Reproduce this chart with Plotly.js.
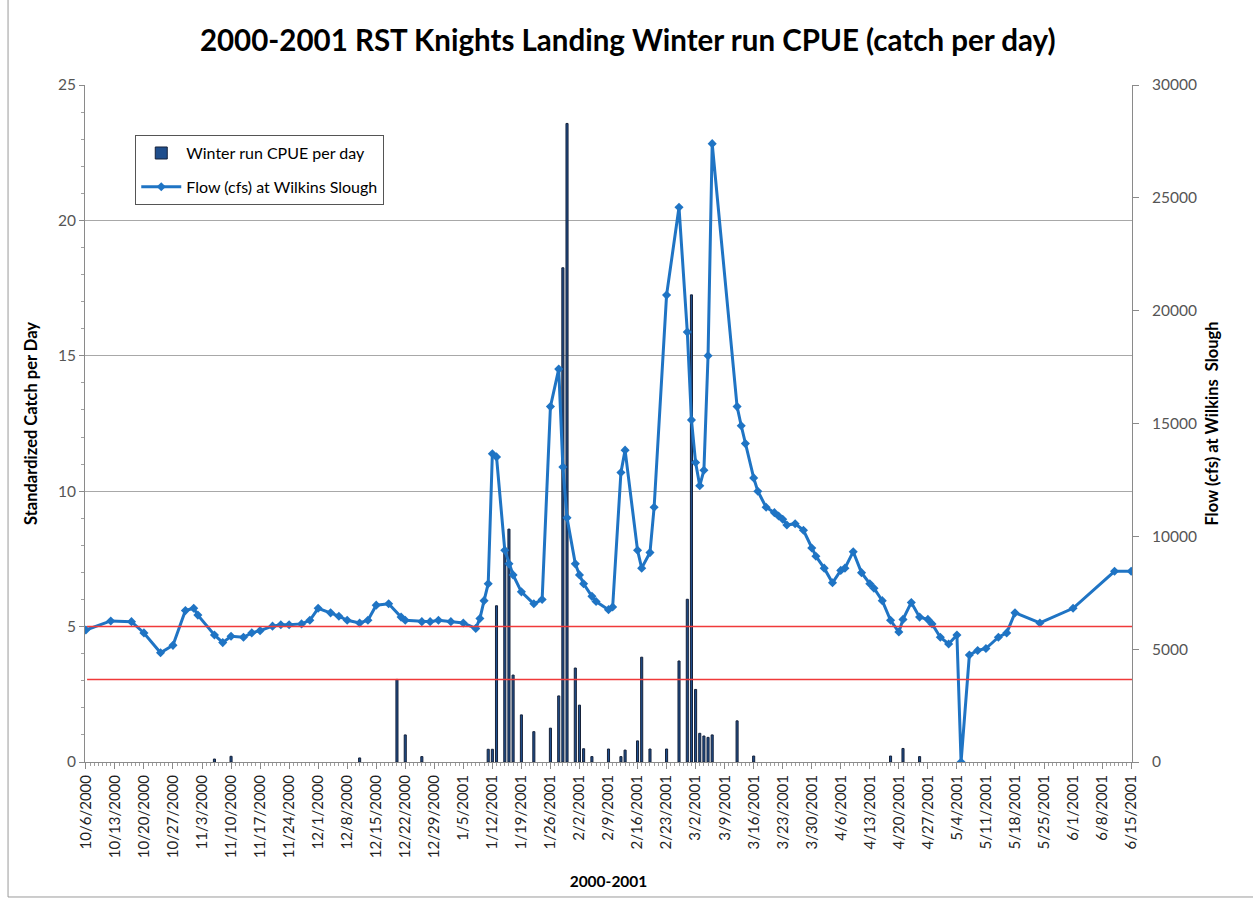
<!DOCTYPE html>
<html>
<head>
<meta charset="utf-8">
<script src="https://cdn.plot.ly/plotly-3.0.1.min.js"></script>
<style>html,body{margin:0;padding:0;background:#fff;}#chart{width:1253px;height:905px;}</style>
</head>
<body>
<div id="chart"></div>
<script>
// Flow (cfs) at Wilkins Slough
const flowDates = [
"2000-10-06","2000-10-12","2000-10-17","2000-10-20","2000-10-24","2000-10-27","2000-10-30","2000-11-01","2000-11-02","2000-11-06",
"2000-11-08","2000-11-10","2000-11-13","2000-11-15","2000-11-17","2000-11-20","2000-11-22","2000-11-24","2000-11-27","2000-11-29",
"2000-12-01","2000-12-04","2000-12-06","2000-12-08","2000-12-11","2000-12-13","2000-12-15","2000-12-18","2000-12-21","2000-12-22",
"2000-12-26","2000-12-28","2000-12-30","2001-01-02","2001-01-05","2001-01-08","2001-01-09","2001-01-10","2001-01-11","2001-01-12",
"2001-01-13","2001-01-15","2001-01-16","2001-01-17","2001-01-19","2001-01-22","2001-01-24","2001-01-26","2001-01-28","2001-01-29",
"2001-01-30","2001-02-01","2001-02-02","2001-02-03","2001-02-05","2001-02-06","2001-02-09","2001-02-10","2001-02-12","2001-02-13",
"2001-02-16","2001-02-17","2001-02-19","2001-02-20","2001-02-23","2001-02-26","2001-02-28","2001-03-01","2001-03-02","2001-03-03",
"2001-03-04","2001-03-05","2001-03-06","2001-03-12","2001-03-13","2001-03-14","2001-03-16","2001-03-17","2001-03-19","2001-03-21",
"2001-03-22","2001-03-23","2001-03-24","2001-03-26","2001-03-28","2001-03-30","2001-03-31","2001-04-02","2001-04-04","2001-04-06",
"2001-04-07","2001-04-09","2001-04-11","2001-04-13","2001-04-14","2001-04-16","2001-04-18","2001-04-20","2001-04-21","2001-04-23",
"2001-04-25","2001-04-27","2001-04-28","2001-04-30","2001-05-02","2001-05-04","2001-05-05","2001-05-07","2001-05-09","2001-05-11",
"2001-05-14","2001-05-16","2001-05-18","2001-05-24","2001-06-01","2001-06-11","2001-06-15"];
const flowValues = [
5850,6250,6220,5720,4840,5170,6710,6810,6510,5630,
5290,5570,5530,5720,5820,6020,6080,6080,6120,6280,
6810,6610,6460,6280,6160,6280,6950,7010,6420,6280,
6220,6220,6280,6220,6160,5920,6360,7150,7900,13660,
13520,9380,8780,8290,7540,7010,7200,15750,17410,13070,
10820,8780,8290,7900,7340,7110,6750,6870,12830,13820,
9380,8590,9280,11290,20690,24580,19050,15160,13270,12240,
12930,18000,27400,15750,14900,14110,12590,12000,11290,11050,
10900,10760,10500,10560,10270,9480,9120,8590,7940,8490,
8590,9320,8390,7900,7700,7150,6280,5760,6320,7070,
6420,6320,6120,5530,5230,5630,0,4740,4940,5030,
5530,5720,6610,6160,6810,8450,8450];

// Winter run CPUE per day
const cpueDates = [
"2000-11-06","2000-11-10","2000-12-11","2000-12-20","2000-12-22","2000-12-26","2001-01-11","2001-01-12","2001-01-13","2001-01-15",
"2001-01-16","2001-01-17","2001-01-19","2001-01-22","2001-01-26","2001-01-28","2001-01-29","2001-01-30","2001-02-01","2001-02-02",
"2001-02-03","2001-02-05","2001-02-09","2001-02-12","2001-02-13","2001-02-16","2001-02-17","2001-02-19","2001-02-23","2001-02-26",
"2001-02-28","2001-03-01","2001-03-02","2001-03-03","2001-03-04","2001-03-05","2001-03-06","2001-03-12","2001-03-16","2001-04-18",
"2001-04-21","2001-04-25"];
const cpueValues = [
0.11,0.21,0.15,3.05,1.0,0.2,0.47,0.47,5.77,7.77,
8.6,3.21,1.74,1.12,1.25,2.44,18.25,23.58,3.47,2.1,
0.49,0.2,0.48,0.2,0.44,0.78,3.87,0.48,0.48,3.73,
6.01,17.25,2.68,1.06,0.96,0.91,1.0,1.52,0.22,0.22,
0.5,0.2];

// Reference lines (Standardized catch per day)
const thresholds = [5, 3.05];

const titleText = "2000-2001 RST Knights Landing Winter run CPUE (catch per day)";
const leftTitle = "Standardized Catch per Day";
const rightTitle = "Flow (cfs) at Wilkins&nbsp; Slough";
const xTitle = "2000-2001";
const seriesNames = ["Winter run CPUE per day", "Flow (cfs) at Wilkins Slough"];

const FONT = "Lato, 'Open Sans', sans-serif";
const DAY = 86400000;

const traces = [
  {
    type: "bar", name: seriesNames[0], legendgroup: "a", x: cpueDates, y: cpueValues,
    xaxis: "x", yaxis: "y", width: DAY * 0.5,
    marker: {color: "#1F4E8C", line: {color: "#16223a", width: 1}}
  },
  {
    type: "scatter", mode: "lines+markers", name: seriesNames[1], legendgroup: "b",
    x: flowDates, y: flowValues, xaxis: "x", yaxis: "y2",
    line: {color: "#1F74C4", width: 3},
    marker: {symbol: "diamond", size: 7, color: "#1F74C4"}
  }
];

const shapes = thresholds.map(t => ({
  type: "line", xref: "paper", yref: "y", x0: 0.002, x1: 1, y0: t, y1: t,
  line: {color: "#F03A3A", width: 1.5}, layer: "above"
}));
// chart area border
shapes.push({type: "rect", xref: "paper", yref: "paper", x0: -0.0735, x1: 1.13, y0: -0.1994, y1: 1.14,
  line: {color: "#9a9a9a", width: 1}, layer: "below"});

const layout = {
  width: 1253, height: 905,
  margin: {l: 85, r: 121, t: 85, b: 143},
  paper_bgcolor: "#ffffff", plot_bgcolor: "#ffffff",
  font: {family: FONT, color: "#000"},
  title: {text: "<b>" + titleText + "</b>", font: {family: FONT, size: 29.5, color: "#000"},
          xref: "container", x: 0.501, xanchor: "center", yref: "container", y: 0.955, yanchor: "middle"},
  bargap: 0,
  showlegend: true,
  legend: {x: 0.048, y: 0.926, xanchor: "left", yanchor: "top", bgcolor: "#fff",
           bordercolor: "#555", borderwidth: 1, font: {family: FONT, size: 16, color: "#000"},
           traceorder: "grouped", itemwidth: 40, tracegroupgap: 10},
  xaxis: {
    type: "date", range: ["2000-10-05 19:00", "2001-06-15 05:00"],
    tick0: "2000-10-06", dtick: 7 * DAY, tickformat: "%-m/%-d/%Y", tickangle: -90,
    ticks: "outside", ticklen: 6, tickcolor: "#8a8a8a",
    minor: {tick0: "2000-10-06", dtick: DAY, ticks: "outside", ticklen: 3, tickcolor: "#a0a0a0", showgrid: false},
    showline: true, linecolor: "#8a8a8a", linewidth: 1, showgrid: false, zeroline: false,
    tickfont: {family: FONT, size: 15, color: "#222"},
    title: {text: "<b>" + xTitle + "</b>", font: {family: FONT, size: 15.5, color: "#000"}, standoff: 18},
    automargin: false
  },
  yaxis: {
    range: [0, 25], dtick: 5, tick0: 0,
    ticks: "outside", ticklen: 5, tickcolor: "#8a8a8a",
    minor: {dtick: 1, ticks: "outside", ticklen: 3, tickcolor: "#a0a0a0", showgrid: false},
    showline: true, linecolor: "#8a8a8a", linewidth: 1,
    showgrid: true, gridcolor: "#a8a8a8", gridwidth: 1, zeroline: false,
    tickfont: {family: FONT, size: 15.5, color: "#555"},
    title: {text: "<b>" + leftTitle + "</b>", font: {family: FONT, size: 16.5, color: "#000"}, standoff: 16},
    automargin: false
  },
  yaxis2: {
    overlaying: "y", side: "right", range: [0, 30000], dtick: 5000, tick0: 0,
    tickformat: "d",
    ticks: "outside", ticklen: 6, tickcolor: "#8a8a8a", ticklabelstandoff: 10,
    showline: true, linecolor: "#8a8a8a", linewidth: 1, showgrid: false, zeroline: false,
    tickfont: {family: FONT, size: 15.5, color: "#555"},
    title: {text: "<b>" + rightTitle + "</b>", font: {family: FONT, size: 16.5, color: "#000"}, standoff: 10},
    automargin: false
  },
  shapes: shapes
};

Plotly.newPlot("chart", traces, layout, {displayModeBar: false, staticPlot: true});
</script>
</body>
</html>
